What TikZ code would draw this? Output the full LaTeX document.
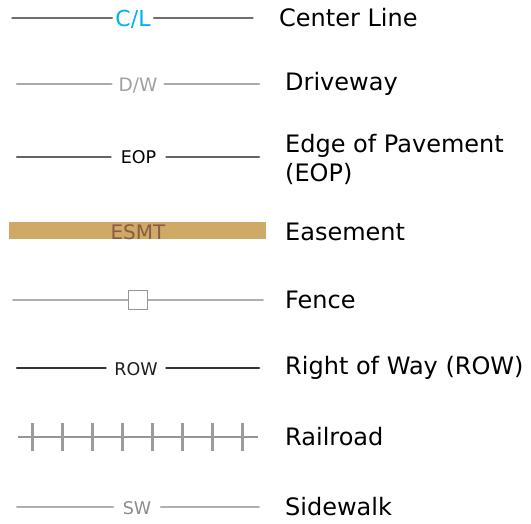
\documentclass[tikz,border=0pt]{standalone}
\usepackage{xcolor}
\usepackage{fontspec}
\setmainfont{DejaVu Sans}
\usepackage{tikz}

\definecolor{clblue}{RGB}{0,176,240}
\definecolor{esmtfill}{RGB}{207,170,102}
\definecolor{esmttext}{RGB}{140,90,70}

\begin{document}
\begin{tikzpicture}[
    x=1pt, y=-1pt,
    every node/.style={inner sep=0pt},
    legend/.style={anchor=west, font=\fontsize{24}{29}\selectfont},
    tag/.style={inner xsep=8pt, font=\fontsize{17.5}{20}\selectfont},
    line cap=round
]
\useasboundingbox (0,0) rectangle (531,524);

% center line
\coordinate (cl-a) at (12,18);
\coordinate (cl-b) at (253,18);
\node (cl-t) [tag, inner xsep=3pt, text=clblue, font=\fontsize{22}{26}\selectfont] at (133,19) {C/L};
\draw[line width=1.4pt, color={rgb,255:red,110;green,110;blue,110}] (cl-a) -- (cl-a -| cl-t.west) (cl-b -| cl-t.east) -- (cl-b);
\node (cl-l) [legend] at (279,18) {Center Line};

% driveway
\coordinate (dw-a) at (17,84);
\coordinate (dw-b) at (259,84);
\node (dw-t) [tag, inner xsep=7pt, text={rgb,255:red,160;green,160;blue,160}, font=\fontsize{18.5}{22}\selectfont] at (138,86) {D/W};
\draw[line width=2.4pt, color={rgb,255:red,170;green,170;blue,170}] (dw-a) -- (dw-a -| dw-t.west) (dw-b -| dw-t.east) -- (dw-b);
\node (dw-l) [legend] at (285,84) {Driveway};

% edge of pavement
\coordinate (eop-a) at (17,157);
\coordinate (eop-b) at (259,157);
\node (eop-t) [tag, inner xsep=10pt] at (138.5,157) {EOP};
\draw[line width=2.4pt, color={rgb,255:red,100;green,100;blue,100}] (eop-a) -- (eop-a -| eop-t.west) (eop-b -| eop-t.east) -- (eop-b);
\node (eop-l) [legend, align=left] at (285,159) {Edge of Pavement\\(EOP)};

% easement
\node (esmt) [fill=esmtfill, minimum width=257pt, minimum height=17pt] at (137.5,230.5) {};
\node (esmt-t) [text=esmttext, font=\fontsize{20}{24}\selectfont] at (138,232) {ESMT};
\node (esmt-l) [legend] at (285,232) {Easement};

% fence
\coordinate (fn-a) at (13,300);
\coordinate (fn-b) at (263,300);
\node (fn-t) [draw={rgb,255:red,150;green,150;blue,150}, line width=1.6pt, fill=white, minimum size=19pt] at (138,300) {};
\draw[line width=2pt, color={rgb,255:red,175;green,175;blue,175}] (fn-a) -- (fn-t.west) (fn-t.east) -- (fn-b);
\node (fn-l) [legend] at (285,300) {Fence};

% right of way
\coordinate (row-a) at (17,368);
\coordinate (row-b) at (259,368);
\node (row-t) [tag, inner xsep=8.5pt, text={rgb,255:red,30;green,30;blue,30}] at (136,369) {ROW};
\draw[line width=2.4pt, color={rgb,255:red,50;green,50;blue,50}] (row-a) -- (row-a -| row-t.west) (row-b -| row-t.east) -- (row-b);
\node (row-l) [legend] at (285,368) {Right of Way (ROW)};

% railroad
\coordinate (rr-a) at (18,437);
\coordinate (rr-b) at (258,437);
\draw[line width=2pt, line cap=butt, color={rgb,255:red,150;green,150;blue,150}] (rr-a) -- (rr-b);
\foreach \i in {0,...,7}
    \draw[line width=3pt, line cap=butt, color={rgb,255:red,155;green,155;blue,155}] (32+30*\i,423) -- (32+30*\i,451);
\node (rr-l) [legend] at (285,437) {Railroad};

% sidewalk
\coordinate (sw-a) at (17,507);
\coordinate (sw-b) at (259,507);
\node (sw-t) [tag, inner xsep=9.5pt, text={rgb,255:red,140;green,140;blue,140}] at (137,508) {SW};
\draw[line width=2pt, color={rgb,255:red,175;green,175;blue,175}] (sw-a) -- (sw-a -| sw-t.west) (sw-b -| sw-t.east) -- (sw-b);
\node (sw-l) [legend] at (285,507) {Sidewalk};

\end{tikzpicture}
\end{document}
